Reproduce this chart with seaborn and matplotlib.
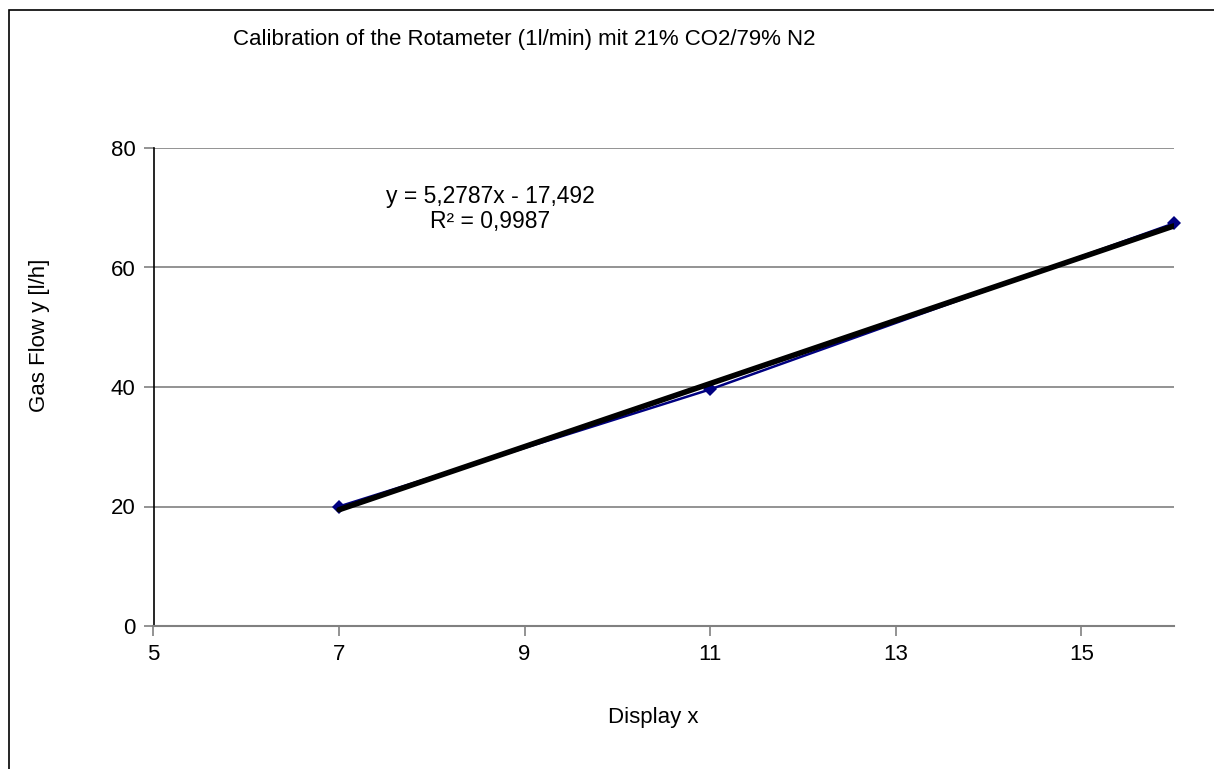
import matplotlib
matplotlib.use("Agg")
import matplotlib.pyplot as plt
import seaborn as sns
import pandas as pd
import numpy as np
from matplotlib.patches import Rectangle

display_x = [7, 11, 16]
gas_flow = [20.0, 39.6, 67.4]
x_ticks = [5, 7, 9, 11, 13, 15]
y_ticks = [0, 20, 40, 60, 80]
title = "Calibration of the Rotameter (1l/min) mit 21% CO2/79% N2"
equation = "y = 5,2787x - 17,492\nR² = 0,9987"

sns.set_style("white")
plt.rcParams['font.family'] = ['Liberation Sans', 'DejaVu Sans']
plt.rcParams['text.color'] = 'black'

df = pd.DataFrame({"x": display_x, "y": gas_flow})

W, H = 1214, 769
fig = plt.figure(figsize=(W / 100, H / 100), dpi=100)
ax = fig.add_axes([153.5 / W, 1 - 626 / H, (1174 - 153.5) / W, (626 - 148) / H])

sns.lineplot(data=df, x="x", y="y", ax=ax, color="#000080", linewidth=1.8,
             marker="D", markersize=7, markeredgewidth=0, zorder=3, clip_on=False)
sns.regplot(data=df, x="x", y="y", ax=ax, scatter=False, ci=None, truncate=True,
            line_kws=dict(color="black", linewidth=4, zorder=4))

ax.set_xlim(5, 16)
ax.set_ylim(0, 80)
ax.set_xticks(x_ticks)
ax.set_yticks(y_ticks)
ax.yaxis.grid(True, color="#808080", linewidth=1.2, zorder=0)
ax.set_axisbelow(True)
for s in ["top", "right"]:
    ax.spines[s].set_visible(False)
ax.spines["left"].set_color("black")
ax.spines["left"].set_linewidth(1.2)
ax.spines["bottom"].set_color("#808080")
ax.spines["bottom"].set_linewidth(1.5)
ax.tick_params(axis="both", which="major", labelsize=16, colors="#808080",
               labelcolor="black", length=7, width=1.2, direction="out",
               bottom=True, left=True, pad=6)
ax.set_xlabel("")
ax.set_ylabel("")

fig.text(524 / W, 1 - 40 / H, title, ha="center", va="center", fontsize=16, color="black")
fig.text(653 / W, 1 - 718 / H, "Display x", ha="center", va="center", fontsize=16, color="black")
fig.text(40 / W, 1 - 335 / H, "Gas Flow y [l/h]", ha="center", va="center",
         fontsize=16, rotation=90, color="black")
fig.text(490 / W, 1 - 209 / H, equation, ha="center", va="center",
         fontsize=16.5, linespacing=1.15, color="black")

fig.patches.append(Rectangle((9 / W, -0.05), 1.2, 1 - 10 / H + 0.05,
                             transform=fig.transFigure, fill=False,
                             edgecolor="black", linewidth=1.2))

fig.savefig("out.png", dpi=100)
